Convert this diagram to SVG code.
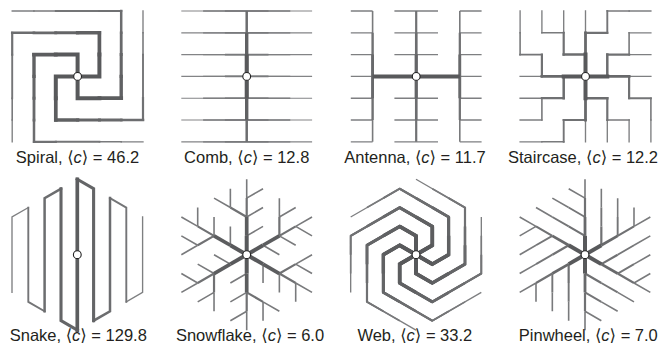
<svg xmlns="http://www.w3.org/2000/svg" width="662" height="356" viewBox="0 0 662 356">
<style>
path{fill:none;stroke-linejoin:miter}
.sq path{stroke-linecap:square}
.s0{stroke:#58595b;stroke-width:4}
.s1{stroke:#5c5d5f;stroke-width:3.7}
.s2{stroke:#606163;stroke-width:3.4}
.s3{stroke:#646567;stroke-width:3.1}
.s4{stroke:#68696b;stroke-width:2.8}
.s5{stroke:#6c6d6f;stroke-width:2.5}
.s6{stroke:#707173;stroke-width:2.2}
.s7{stroke:#747577;stroke-width:1.9}
.s8{stroke:#797a7c;stroke-width:1.6}
.s9{stroke:#7e7f81;stroke-width:1.35}
.s10{stroke:#838486;stroke-width:1.15}
.hub{fill:#fff;stroke:#222;stroke-width:1.1}
text{font-family:"Liberation Sans",Arial,"DejaVu Sans",sans-serif;font-size:16.5px;fill:#231f20;text-anchor:middle}
.i{font-style:italic}
</style>
<defs>
<g id="sfArm">
<path class="s8" d="M0 -56.58V-75.44M-16.33 -47.15L-32.66 -56.58M-16.33 -47.15V-66.01M0 -18.86L16.33 -28.29M0 -37.72L16.33 -47.15M0 -56.58L16.33 -66.01"/>
<path class="s6" d="M0 -37.72V-56.58M0 -37.72L-16.33 -47.15"/>
<path class="s1" d="M0 -18.86V-37.72"/>
<path class="s0" d="M0 0V-18.86"/>
</g>
<g id="pwArm">
<path class="s8" d="M0 -56.58V-75.44M-32.66 -37.72L-48.99 -47.15M-16.33 -47.15L-32.66 -56.58M0 -56.58L-16.33 -66.01"/>
<path class="s7" d="M-16.33 -28.29L-32.66 -37.72M0 -37.72L-16.33 -47.15"/>
<path class="s6" d="M0 -37.72V-56.58M0 -18.86L-16.33 -28.29"/>
<path class="s4" d="M0 -18.86V-37.72"/>
<path class="s0" d="M0 0V-18.86"/>
</g>
<g id="webArm">
<path class="s9" d="M0 0L-16.33 -9.43L-32.66 0V37.72L16.33 66.01L65.32 37.72"/>
<path class="s8" d="M0 0L-16.33 -9.43L-32.66 0V37.72L16.33 66.01L48.99 47.15"/>
<path class="s7" d="M0 0L-16.33 -9.43L-32.66 0V37.72L16.33 66.01L32.66 56.58"/>
<path class="s6" d="M0 0L-16.33 -9.43L-32.66 0V37.72L16.33 66.01"/>
<path class="s5" d="M0 0L-16.33 -9.43L-32.66 0V37.72L0 56.58"/>
<path class="s4" d="M0 0L-16.33 -9.43L-32.66 0V37.72L-16.33 47.15"/>
<path class="s3" d="M0 0L-16.33 -9.43L-32.66 0V37.72"/>
<path class="s2" d="M0 0L-16.33 -9.43L-32.66 0V18.86"/>
<path class="s1" d="M0 0L-16.33 -9.43L-32.66 0"/>
<path class="s0" d="M0 0L-16.33 -9.43"/>
</g>
</defs>

<g id="spiral">
<g id="spiral-edges" class="sq">
<path class="s9" d="M143 32.8V11M34 11H12.2M12.2 120V141.8M121.2 141.8H143"/>
<path class="s8" d="M143 54.6V32.8M55.8 11H34M12.2 98.2V120M99.4 141.8H121.2"/>
<path class="s7" d="M143 98.2V54.6M99.4 11H55.8M12.2 54.6V98.2M55.8 141.8H99.4"/>
<path class="s6" d="M143 120V98.2M121.2 11H99.4M12.2 32.8V54.6M34 141.8H55.8"/>
<path class="s5" d="M121.2 120H143M121.2 32.8V11M34 32.8H12.2M34 120V141.8"/>
<path class="s4" d="M99.4 120H121.2M121.2 54.6V32.8M55.8 32.8H34M34 98.2V120"/>
<path class="s3" d="M77.6 120H99.4M121.2 76.4V54.6M77.6 32.8H55.8M34 76.4V98.2"/>
<path class="s2" d="M55.8 120H77.6M121.2 98.2V76.4M99.4 32.8H77.6M34 54.6V76.4"/>
<path class="s1" d="M55.8 98.2V120M99.4 98.2H121.2M99.4 54.6V32.8M55.8 54.6H34"/>
<path class="s0" d="M77.6 76.4H55.8V98.2M77.6 76.4V98.2H99.4M77.6 76.4H99.4V54.6M77.6 76.4V54.6H55.8"/>
</g>
<circle id="spiral-hub" class="hub" cx="77.6" cy="76.4" r="3.9"/>
<text x="77.5" y="163">Spiral, ⟨<tspan class="i">c</tspan>⟩ = 46.2</text>
</g>

<g id="comb">
<g id="comb-edges">
<path class="s10" d="M181.3 11H312.1M181.3 32.8H312.1M181.3 54.6H312.1M181.3 76.4H312.1M181.3 98.2H312.1M181.3 120H312.1M181.3 141.8H312.1"/>
<path class="s9" d="M203.1 11H290.3M203.1 32.8H290.3M203.1 54.6H290.3M203.1 76.4H290.3M203.1 98.2H290.3M203.1 120H290.3M203.1 141.8H290.3"/>
<path class="s8" d="M224.9 11H268.5M224.9 32.8H268.5M224.9 54.6H268.5M224.9 76.4H268.5M224.9 98.2H268.5M224.9 120H268.5M224.9 141.8H268.5"/>
<path class="s5" d="M246.7 11V141.8"/>
<path class="s2" d="M246.7 32.8V120"/>
<path class="s0" d="M246.7 54.6V98.2"/>
</g>
<circle id="comb-hub" class="hub" cx="246.7" cy="76.4" r="3.9"/>
<text x="246.7" y="163">Comb, ⟨<tspan class="i">c</tspan>⟩ = 12.8</text>
</g>

<g id="antenna">
<g id="antenna-edges">
<path class="s9" d="M350.8 11H372.6M350.8 32.8H372.6M350.8 54.6H372.6M350.8 76.4H372.6M350.8 98.2H372.6M350.8 120H372.6M350.8 141.8H372.6M459.8 11H481.6M459.8 32.8H481.6M459.8 54.6H481.6M459.8 76.4H481.6M459.8 98.2H481.6M459.8 120H481.6M459.8 141.8H481.6M394.4 11H438M394.4 32.8H438M394.4 54.6H438M394.4 98.2H438M394.4 120H438M394.4 141.8H438"/>
<path class="s8" d="M372.6 11V141.8M459.8 11V141.8"/>
<path class="s6" d="M372.6 32.8V120M459.8 32.8V120M416.2 11V141.8"/>
<path class="s5" d="M416.2 32.8V120"/>
<path class="s4" d="M372.6 54.6V98.2M459.8 54.6V98.2"/>
<path class="s3" d="M416.2 54.6V98.2"/>
<path class="s0" d="M372.6 76.4H459.8"/>
</g>
<circle id="antenna-hub" class="hub" cx="416.2" cy="76.4" r="3.9"/>
<text x="415" y="163">Antenna, ⟨<tspan class="i">c</tspan>⟩ = 11.7</text>
</g>

<g id="staircase">
<g id="staircase-edges" class="sq">
<path class="s9" d="M585.5 32.8V11M629.1 11H650.9M563.7 32.8V11M541.9 32.8V11M541.9 76.4H520.1M520.1 32.8V11M541.9 98.2H520.1M541.9 120H520.1M585.5 120V141.8M541.9 141.8H520.1M607.3 120V141.8M629.1 120V141.8M629.1 76.4H650.9M650.9 120V141.8M629.1 54.6H650.9M629.1 32.8H650.9"/>
<path class="s8" d="M607.3 11H629.1M563.7 32.8H541.9M520.1 54.6V32.8M541.9 98.2V120M563.7 141.8H541.9M607.3 120H629.1M650.9 98.2V120M629.1 54.6V32.8"/>
<path class="s7" d="M607.3 32.8V11M541.9 54.6H520.1M563.7 120V141.8M629.1 98.2H650.9"/>
<path class="s6" d="M585.5 32.8H607.3M563.7 54.6V32.8M541.9 76.4V54.6M563.7 98.2H541.9M585.5 120H563.7M607.3 98.2V120M629.1 76.4V98.2M607.3 54.6H629.1"/>
<path class="s5" d="M585.5 54.6H563.7M563.7 76.4V98.2M585.5 98.2H607.3M607.3 76.4V54.6"/>
<path class="s4" d="M585.5 54.6V32.8M563.7 76.4H541.9M585.5 98.2V120M607.3 76.4H629.1"/>
<path class="s0" d="M585.5 54.6V98.2M563.7 76.4H607.3"/>
</g>
<circle id="staircase-hub" class="hub" cx="585.5" cy="76.4" r="3.9"/>
<text x="583" y="163">Staircase, ⟨<tspan class="i">c</tspan>⟩ = 12.2</text>
</g>

<g id="snake">
<g id="snake-edges" class="sq">
<path class="s9" d="M12 292.4V217L28.3 207.6"/>
<path class="s7" d="M28.3 207.6V301.9L44.6 311.3"/>
<path class="s5" d="M44.6 311.3V198.1L61 188.7"/>
<path class="s3" d="M61 188.7V320.7L77.3 330.1"/>
<path class="s9" d="M126.3 301.9L142.6 292.4V217"/>
<path class="s7" d="M110 198.1L126.3 207.6V301.9"/>
<path class="s5" d="M93.6 320.7L110 311.3V198.1"/>
<path class="s3" d="M77.3 179.3L93.6 188.7V320.7"/>
<path class="s1" d="M77.3 330.1V179.3"/>
</g>
<circle id="snake-hub" class="hub" cx="77.3" cy="254.7" r="3.9"/>
<text x="78.3" y="341.3">Snake, ⟨<tspan class="i">c</tspan>⟩ = 129.8</text>
</g>

<g id="snowflake">
<g id="snowflake-edges">
<use href="#sfArm" transform="translate(246.7 254.7)"/>
<use href="#sfArm" transform="translate(246.7 254.7) rotate(60)"/>
<use href="#sfArm" transform="translate(246.7 254.7) rotate(120)"/>
<use href="#sfArm" transform="translate(246.7 254.7) rotate(180)"/>
<use href="#sfArm" transform="translate(246.7 254.7) rotate(240)"/>
<use href="#sfArm" transform="translate(246.7 254.7) rotate(300)"/>
</g>
<circle id="snowflake-hub" class="hub" cx="246.7" cy="254.7" r="3.9"/>
<text x="250" y="341.3">Snowflake, ⟨<tspan class="i">c</tspan>⟩ = 6.0</text>
</g>

<g id="web">
<g id="web-edges">
<use href="#webArm" transform="translate(416 254.7)"/>
<use href="#webArm" transform="translate(416 254.7) rotate(60)"/>
<use href="#webArm" transform="translate(416 254.7) rotate(120)"/>
<use href="#webArm" transform="translate(416 254.7) rotate(180)"/>
<use href="#webArm" transform="translate(416 254.7) rotate(240)"/>
<use href="#webArm" transform="translate(416 254.7) rotate(300)"/>
</g>
<circle id="web-hub" class="hub" cx="416" cy="254.7" r="3.9"/>
<text x="414.8" y="341.3">Web, ⟨<tspan class="i">c</tspan>⟩ = 33.2</text>
</g>

<g id="pinwheel">
<g id="pinwheel-edges">
<use href="#pwArm" transform="translate(585 254.7)"/>
<use href="#pwArm" transform="translate(585 254.7) rotate(60)"/>
<use href="#pwArm" transform="translate(585 254.7) rotate(120)"/>
<use href="#pwArm" transform="translate(585 254.7) rotate(180)"/>
<use href="#pwArm" transform="translate(585 254.7) rotate(240)"/>
<use href="#pwArm" transform="translate(585 254.7) rotate(300)"/>
</g>
<circle id="pinwheel-hub" class="hub" cx="585" cy="254.7" r="3.9"/>
<text x="588.3" y="341.3">Pinwheel, ⟨<tspan class="i">c</tspan>⟩ = 7.0</text>
</g>
</svg>
